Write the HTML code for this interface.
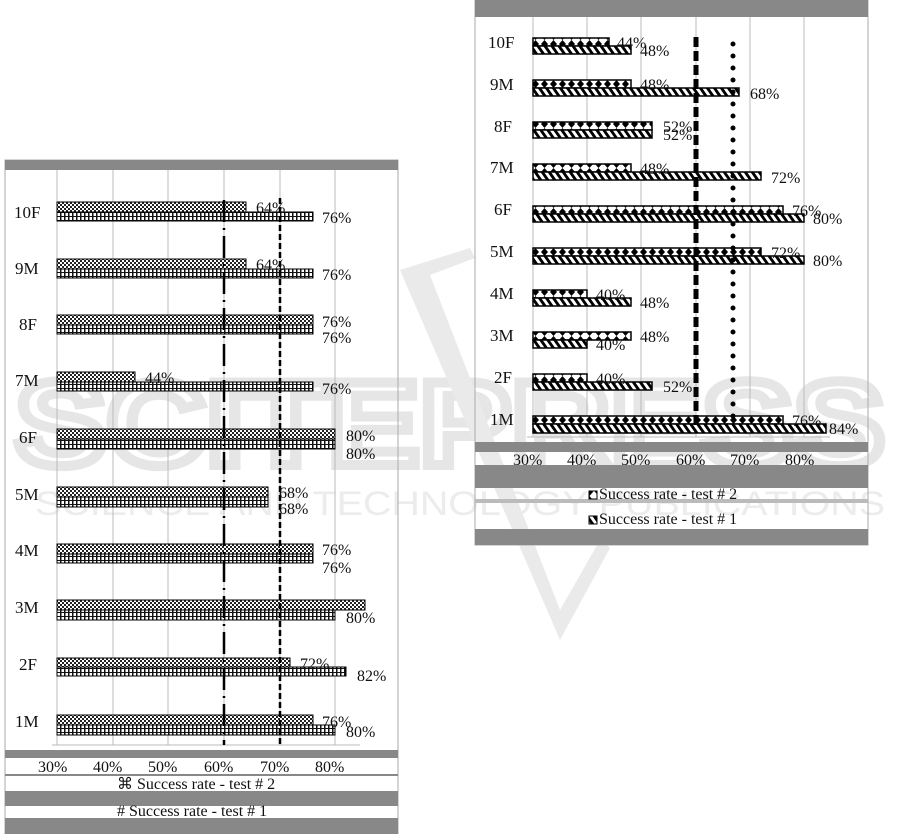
<!DOCTYPE html>
<html><head><meta charset="utf-8"><style>
html,body{margin:0;padding:0;background:#fff;width:901px;height:834px;overflow:hidden}
svg{display:block}
text{font-family:"Liberation Serif",serif;fill:#111}
</style></head><body>
<svg width="901" height="834" viewBox="0 0 901 834" xmlns="http://www.w3.org/2000/svg">
<defs>
<pattern id="chk" width="4" height="4" patternUnits="userSpaceOnUse"><rect width="4" height="4" fill="#fff"/><rect width="2" height="2" fill="#222"/><rect x="2" y="2" width="2" height="2" fill="#222"/></pattern>
<pattern id="grd" width="4" height="4" patternUnits="userSpaceOnUse"><rect width="4" height="4" fill="#fff"/><rect width="1.5" height="4" fill="#111"/><rect width="4" height="1" fill="#111"/></pattern>
<pattern id="dia" width="9" height="8" patternUnits="userSpaceOnUse"><rect width="9" height="8" fill="#fff"/><polygon points="4.5,0 8,4 4.5,8 1,4" fill="#000"/></pattern>
<pattern id="dg" width="7" height="8" patternUnits="userSpaceOnUse" patternTransform="skewX(35)"><rect width="7" height="8" fill="#fff"/><rect width="3.5" height="8" fill="#000"/></pattern>
</defs>
<!-- watermark -->
<text x="15" y="465" font-size="120" style="font-family:'Liberation Sans',sans-serif;font-weight:bold;fill:none;stroke:#e6e6e6;stroke-width:10" textLength="870" lengthAdjust="spacingAndGlyphs">SCITEPRESS</text>
<text x="35" y="515" font-size="34" style="font-family:'Liberation Sans',sans-serif;fill:#ececec" textLength="850" lengthAdjust="spacingAndGlyphs">SCIENCE AND TECHNOLOGY PUBLICATIONS</text>
<path d="M400 270 L470 248 L475 258 L430 275 L560 610 L600 540 L610 548 L560 640 Z" fill="#eaeaea"/>

<!-- LEFT CHART -->
<rect x="5" y="160" width="393" height="674" fill="none" stroke="#aaa"/>
<rect x="5" y="160" width="393" height="10" fill="#888"/>
<g stroke="#bbb" stroke-width="1">
<line x1="57" y1="170" x2="57" y2="745"/><line x1="113" y1="170" x2="113" y2="745"/><line x1="168" y1="170" x2="168" y2="745"/><line x1="224" y1="170" x2="224" y2="745"/><line x1="280" y1="170" x2="280" y2="745"/><line x1="335" y1="170" x2="335" y2="745"/>
<line x1="52" y1="745" x2="360" y2="745"/>
</g>
<g font-size="17">
<text x="14" y="218">10F</text><text x="15" y="274">9M</text><text x="19" y="330">8F</text><text x="15" y="386">7M</text><text x="19" y="443">6F</text><text x="15" y="500">5M</text><text x="15" y="556">4M</text><text x="15" y="613">3M</text><text x="19" y="670">2F</text><text x="15" y="727">1M</text>
</g>
<g stroke="#000" stroke-width="1">
<rect x="57" y="202" width="189" height="10" fill="url(#chk)"/><rect x="57" y="212" width="256" height="9" fill="url(#grd)"/>
<rect x="57" y="259" width="189" height="10" fill="url(#chk)"/><rect x="57" y="269" width="256" height="9" fill="url(#grd)"/>
<rect x="57" y="315" width="256" height="10" fill="url(#chk)"/><rect x="57" y="325" width="256" height="9" fill="url(#grd)"/>
<rect x="57" y="372" width="78" height="10" fill="url(#chk)"/><rect x="57" y="382" width="256" height="9" fill="url(#grd)"/>
<rect x="57" y="429" width="278" height="10" fill="url(#chk)"/><rect x="57" y="439" width="278" height="10" fill="url(#grd)"/>
<rect x="57" y="487" width="211" height="10" fill="url(#chk)"/><rect x="57" y="497" width="211" height="10" fill="url(#grd)"/>
<rect x="57" y="544" width="256" height="10" fill="url(#chk)"/><rect x="57" y="554" width="256" height="9" fill="url(#grd)"/>
<rect x="57" y="600" width="308" height="10" fill="url(#chk)"/><rect x="57" y="610" width="278" height="10" fill="url(#grd)"/>
<rect x="57" y="658" width="233" height="9" fill="url(#chk)"/><rect x="57" y="667" width="289" height="9" fill="url(#grd)"/>
<rect x="57" y="715" width="256" height="10" fill="url(#chk)"/><rect x="57" y="725" width="278" height="10" fill="url(#grd)"/>
</g>
<line x1="224" y1="200" x2="224" y2="745" stroke="#000" stroke-width="2.5" stroke-dasharray="22,6,2,6"/>
<line x1="280" y1="198" x2="280" y2="745" stroke="#000" stroke-width="2.5" stroke-dasharray="6,3"/>
<g font-size="16">
<text x="256" y="213">64%</text><text x="322" y="223">76%</text>
<text x="256" y="270">64%</text><text x="322" y="280">76%</text>
<text x="322" y="327">76%</text><text x="322" y="343">76%</text>
<text x="145" y="383">44%</text><text x="322" y="394">76%</text>
<text x="346" y="441">80%</text><text x="346" y="459">80%</text>
<text x="279" y="498">68%</text><text x="279" y="514">68%</text>
<text x="322" y="555">76%</text><text x="322" y="573">76%</text>
<text x="346" y="623">80%</text>
<text x="300" y="669">72%</text><text x="357" y="681">82%</text>
<text x="322" y="727">76%</text><text x="346" y="737">80%</text>
</g>
<rect x="5" y="750" width="393" height="8" fill="#888"/>
<rect x="5" y="774" width="393" height="2" fill="#888"/>
<rect x="5" y="791" width="393" height="15" fill="#888"/>
<rect x="5" y="818" width="393" height="16" fill="#888"/>
<g font-size="16"><text x="38" y="772">30%</text><text x="93" y="772">40%</text><text x="148" y="772">50%</text><text x="204" y="772">60%</text><text x="260" y="772">70%</text><text x="315" y="772">80%</text></g>
<text x="117" y="789" font-size="16">⌘ Success rate - test # 2</text>
<text x="117" y="816" font-size="16"># Success rate - test # 1</text>

<!-- RIGHT CHART -->
<rect x="475" y="0" width="393" height="545" fill="none" stroke="#aaa"/>
<rect x="475" y="0" width="393" height="17" fill="#888"/>
<g stroke="#bbb" stroke-width="1">
<line x1="533" y1="17" x2="533" y2="437"/><line x1="587" y1="17" x2="587" y2="437"/><line x1="641" y1="17" x2="641" y2="437"/><line x1="696" y1="17" x2="696" y2="437"/><line x1="750" y1="17" x2="750" y2="437"/><line x1="804" y1="17" x2="804" y2="437"/>
<line x1="527" y1="437" x2="830" y2="437"/>
</g>
<g font-size="17">
<text x="488" y="48">10F</text><text x="490" y="90">9M</text><text x="494" y="132">8F</text><text x="490" y="173">7M</text><text x="494" y="215">6F</text><text x="490" y="257">5M</text><text x="490" y="299">4M</text><text x="490" y="341">3M</text><text x="494" y="383">2F</text><text x="490" y="425">1M</text>
</g>
<g stroke="#000" stroke-width="1.5">
<rect x="533" y="38" width="76" height="8" fill="url(#dia)"/><rect x="533" y="46" width="98" height="8" fill="url(#dg)"/>
<rect x="533" y="80" width="98" height="8" fill="url(#dia)"/><rect x="533" y="88" width="206" height="8" fill="url(#dg)"/>
<rect x="533" y="122" width="119" height="8" fill="url(#dia)"/><rect x="533" y="130" width="119" height="8" fill="url(#dg)"/>
<rect x="533" y="164" width="98" height="8" fill="url(#dia)"/><rect x="533" y="172" width="228" height="8" fill="url(#dg)"/>
<rect x="533" y="206" width="250" height="8" fill="url(#dia)"/><rect x="533" y="214" width="271" height="8" fill="url(#dg)"/>
<rect x="533" y="248" width="228" height="8" fill="url(#dia)"/><rect x="533" y="256" width="271" height="8" fill="url(#dg)"/>
<rect x="533" y="290" width="54" height="8" fill="url(#dia)"/><rect x="533" y="298" width="98" height="8" fill="url(#dg)"/>
<rect x="533" y="332" width="98" height="8" fill="url(#dia)"/><rect x="533" y="340" width="54" height="8" fill="url(#dg)"/>
<rect x="533" y="374" width="54" height="8" fill="url(#dia)"/><rect x="533" y="382" width="119" height="8" fill="url(#dg)"/>
<rect x="533" y="416" width="250" height="8" fill="url(#dia)"/><rect x="533" y="424" width="293" height="9" fill="url(#dg)"/>
</g>
<line x1="696" y1="37" x2="696" y2="425" stroke="#000" stroke-width="5" stroke-dasharray="10,4"/>
<line x1="733" y1="44" x2="733" y2="425" stroke="#000" stroke-width="5" stroke-linecap="round" stroke-dasharray="0,12"/>
<g font-size="16">
<text x="617" y="48">44%</text><text x="640" y="56">48%</text>
<text x="640" y="90">48%</text><text x="750" y="99">68%</text>
<text x="663" y="132">52%</text><text x="663" y="140">52%</text>
<text x="640" y="174">48%</text><text x="771" y="183">72%</text>
<text x="792" y="216">76%</text><text x="813" y="224">80%</text>
<text x="771" y="258">72%</text><text x="813" y="266">80%</text>
<text x="596" y="300">40%</text><text x="640" y="308">48%</text>
<text x="640" y="342">48%</text><text x="596" y="350">40%</text>
<text x="596" y="384">40%</text><text x="663" y="392">52%</text>
<text x="792" y="426">76%</text><text x="829" y="434">84%</text>
</g>
<rect x="475" y="442" width="393" height="10" fill="#888"/>
<rect x="475" y="465" width="393" height="23" fill="#888"/>
<rect x="475" y="499" width="393" height="4" fill="#bbb"/>
<rect x="475" y="529" width="393" height="16" fill="#888"/>
<g font-size="16"><text x="513" y="465">30%</text><text x="567" y="465">40%</text><text x="621" y="465">50%</text><text x="676" y="465">60%</text><text x="730" y="465">70%</text><text x="785" y="465">80%</text></g>
<rect x="589" y="491" width="8" height="8" fill="url(#dia)" stroke="#000"/>
<text x="599" y="499" font-size="16">Success rate - test # 2</text>
<rect x="589" y="516" width="8" height="8" fill="url(#dg)" stroke="#000"/>
<text x="599" y="524" font-size="16">Success rate - test # 1</text>
</svg>
</body></html>
